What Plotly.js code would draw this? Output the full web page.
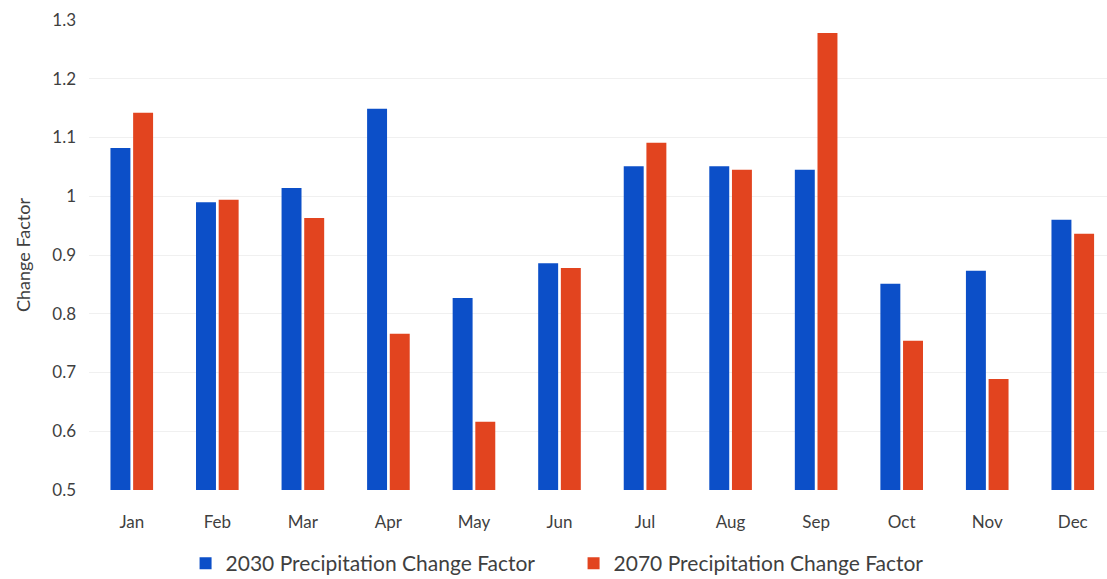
<!DOCTYPE html>
<html><head><meta charset="utf-8">
<script src="https://cdn.plot.ly/plotly-3.0.1.min.js"></script>
<style>body{margin:0;background:#fff}#c{width:1107px;height:579px}</style>
</head><body><div id="c"></div>
<script>
const months = ["Jan","Feb","Mar","Apr","May","Jun","Jul","Aug","Sep","Oct","Nov","Dec"];
const factor2030 = [1.082,0.990,1.014,1.149,0.827,0.886,1.051,1.051,1.045,0.851,0.873,0.960];
const factor2070 = [1.142,0.994,0.963,0.766,0.616,0.878,1.091,1.045,1.278,0.754,0.689,0.936];
const tickVals = [0.5,0.6,0.7,0.8,0.9,1,1.1,1.2,1.3];
const tickText = ["0.5","0.6","0.7","0.8","0.9","1","1.1","1.2","1.3"];

const font = {family: "Lato, 'Open Sans', sans-serif", color: "#3f3f3f", size: 17};
const data = [
  {type:"bar", x: months, y: factor2030, name: "2030 Precipitation Change Factor",
   marker:{color:"#0c4fc8"}},
  {type:"bar", x: months, y: factor2070, name: "2070 Precipitation Change Factor",
   marker:{color:"#e2441f"}}
];
const layout = {
  width:1107, height:579,
  margin:{l:89, r:0, t:20, b:89, autoexpand:false},
  paper_bgcolor:"#fff", plot_bgcolor:"#fff",
  font: font,
  barmode:"group", bargap:0.47, bargroupgap:0.12,
  xaxis:{range:[-0.5,11.4], showgrid:false, zeroline:false, showline:false,
         ticks:"", ticklabelstandoff:20, tickfont:{size:17, color:"#3f3f3f"}, fixedrange:true},
  yaxis:{range:[0.5,1.3], tickvals:tickVals, ticktext:tickText, showgrid:true,
         gridcolor:"#f0f0f0", gridwidth:1, zeroline:false, showline:false,
         ticks:"", ticklabelstandoff:12, tickfont:{size:17, color:"#3f3f3f"},
         title:{text:"Change Factor", font:{size:18, color:"#3f3f3f"}, standoff:16}},
  showlegend:true,
  legend:{orientation:"h", x:0.476, xanchor:"center", yref:"container", y:0.062, yanchor:"top",
          font:{size:21, color:"#3f3f3f"}, itemwidth:30, tracegroupgap:0, entrywidth:343},
};
Plotly.newPlot("c", data, layout, {displayModeBar:false, staticPlot:true});
</script></body></html>
